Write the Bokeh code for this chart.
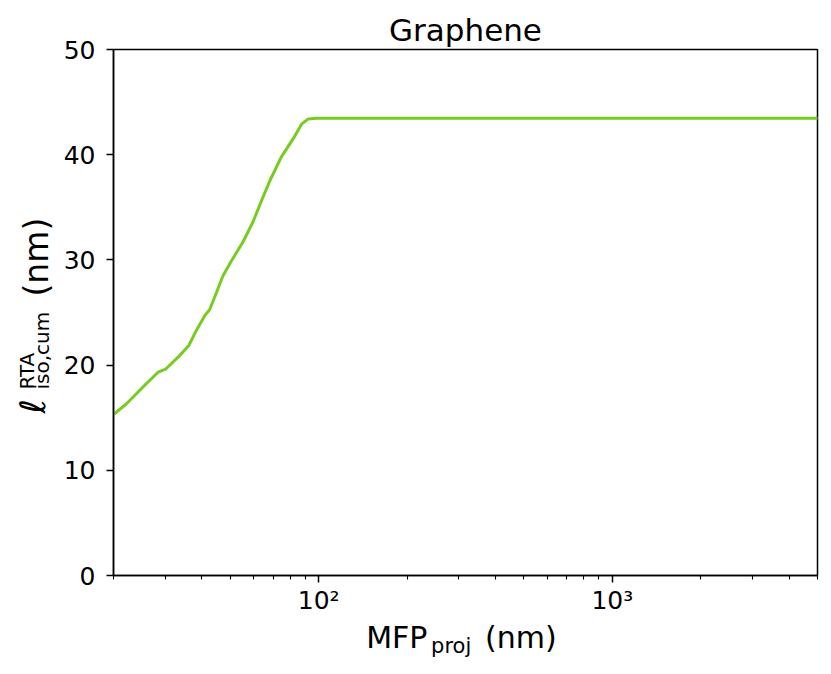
import math
from bokeh.plotting import figure
from bokeh.layouts import row, column
from bokeh.models import Range1d, FixedTicker, ColumnDataSource, Title
from bokeh.core.properties import value
from bokeh.embed import file_html
from bokeh.resources import INLINE

# ---- data ----
mfp_nm = [20, 22.1, 25.5, 28.3, 30.2, 33.6, 36.1, 38.3, 40.9, 42.5, 44.2, 47.2,
          50.4, 55.2, 59.7, 63.8, 68.1, 74.6, 81.8, 87.4, 92.1, 98.4, 150, 300,
          1000, 5000]
ell_cum_nm = [15.3, 16.3, 18.06, 19.3, 19.65, 20.9, 21.86, 23.3, 24.7, 25.26,
              26.45, 28.5, 29.9, 31.7, 33.6, 35.6, 37.5, 39.8, 41.5, 42.9, 43.4,
              43.47, 43.47, 43.47, 43.47, 43.47]

x_major_ticks = [100, 1000]
x_tick_labels = ["10²", "10³"]
x_minor_ticks = [20, 30, 40, 50, 60, 70, 80, 90, 200, 300, 400, 500, 600, 700,
                 800, 900, 2000, 3000, 4000, 5000]
y_ticks = [0, 10, 20, 30, 40, 50]

title_text = "Graphene"

FONT = "DejaVu Sans"
W, H = 829, 672
LEFT_W = 60            # strip holding the rotated y label
MAIN_H = 617           # main plot height (frame bottom at 575)
XLAB_H = H - MAIN_H    # strip holding the x label
FR_L, FR_R = 112, 817  # frame edges (page px)
FR_T, FR_B = 49, 575

# ---------------- main plot ----------------
p = figure(width=W - LEFT_W, height=MAIN_H, x_axis_type="log",
           x_range=Range1d(20, 5000), y_range=Range1d(0, 50),
           output_backend="svg", toolbar_location=None, title=None,
           min_border_left=FR_L - LEFT_W, min_border_right=W - FR_R,
           min_border_top=FR_T, min_border_bottom=MAIN_H - FR_B)
p.background_fill_color = "white"
p.border_fill_color = "white"
p.grid.visible = False
p.outline_line_color = "black"
p.outline_line_width = 1.5

p.add_layout(Title(text=title_text, align="center", text_font=FONT,
                   text_font_size="31px", text_font_style="normal",
                   text_color="black", standoff=4), "above")

src = ColumnDataSource(dict(x=mfp_nm, y=ell_cum_nm))
p.line("x", "y", source=src, line_color="#77cc22", line_width=3,
       line_join="round", line_cap="round")

xa = p.xaxis[0]
xa.ticker = FixedTicker(ticks=x_major_ticks, minor_ticks=x_minor_ticks)
xa.major_label_overrides = {t: s for t, s in zip(x_major_ticks, x_tick_labels)}
xa.major_label_standoff = 3
ya = p.yaxis[0]
ya.ticker = FixedTicker(ticks=y_ticks, minor_ticks=[])
ya.major_label_standoff = 11

for ax in (xa, ya):
    ax.axis_line_color = "black"
    ax.axis_line_width = 1.5
    ax.major_tick_line_color = "black"
    ax.major_tick_line_width = 1.5
    ax.major_tick_in = 0
    ax.major_tick_out = 7
    ax.minor_tick_line_color = "black"
    ax.minor_tick_line_width = 1.1
    ax.minor_tick_in = 0
    ax.minor_tick_out = 4
    ax.major_label_text_font = FONT
    ax.major_label_text_font_size = "25px"
    ax.major_label_text_color = "black"


def text_strip(width, height, xr, yr):
    f = figure(width=width, height=height, x_range=Range1d(*xr), y_range=Range1d(*yr),
               output_backend="svg", toolbar_location=None, title=None,
               x_axis_location=None, y_axis_location=None,
               min_border=0, min_border_left=0, min_border_right=0,
               min_border_top=0, min_border_bottom=0)
    f.grid.visible = False
    f.outline_line_color = None
    f.background_fill_color = "white"
    f.border_fill_color = "white"
    return f


K = 0.345  # middle of text box above the alphabetic baseline, in em


def put(f, x, y, txt, size, angle=0.0, style="normal"):
    f.text(x=[x], y=[y], text=[txt], angle=angle,
           text_font=value(FONT), text_font_size=value(f"{size}px"),
           text_font_style=value(style), text_color="black",
           text_align="left", text_baseline="middle")

# ---------------- x label strip: MFP_proj (nm) ----------------
# frame aligned with the main frame: x = page x, y = H - page y
xl = text_strip(W - LEFT_W, XLAB_H, (FR_L, FR_R), (0, XLAB_H))
put(xl, 365, H - (647 - K * 30), "MFP", 30)
put(xl, 430, H - (653 - K * 21), "proj", 21)
put(xl, 484, H - (647 - K * 30), "(nm)", 30)

# ---------------- y label strip: l^RTA_iso,cum (nm) ----------------
yl = text_strip(LEFT_W, H, (0, LEFT_W), (0, H))
rot = math.pi / 2
put(yl, 45 - K * 35, H - 413, "ℓ", 35, rot, "italic")
put(yl, 33 - K * 20, H - 389, "RTA", 20, rot)
put(yl, 48 - K * 20, H - 389, "iso,cum", 20, rot)
put(yl, 47 - K * 33, H - 296, "(nm)", 33, rot)

layout = row(yl, column(p, xl, spacing=0), spacing=0)
open("out.html", "w").write(file_html(layout, INLINE))
